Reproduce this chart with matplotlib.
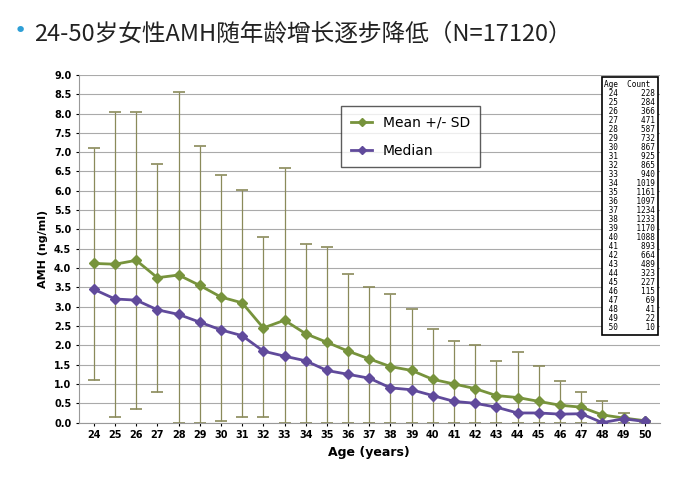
import matplotlib.pyplot as plt
import numpy as np

ages = list(range(24, 51))
mean = [4.12, 4.10, 4.20, 3.75, 3.82, 3.55, 3.25, 3.10, 2.45, 2.65, 2.30, 2.08, 1.85, 1.65,
        1.45, 1.35, 1.12, 1.00, 0.88, 0.70, 0.65, 0.55, 0.45, 0.40, 0.20, 0.12, 0.05]
upper = [7.10, 8.05, 8.05, 6.70, 8.55, 7.15, 6.42, 6.02, 4.80, 6.60, 4.62, 4.55, 3.85, 3.50,
         3.32, 2.95, 2.42, 2.12, 2.02, 1.60, 1.83, 1.47, 1.07, 0.78, 0.55, 0.25, 0.05]
lower = [1.10, 0.15, 0.35, 0.80, 0.00, 0.00, 0.05, 0.15, 0.15, 0.00, 0.00, 0.00, 0.00, 0.00,
         0.00, 0.00, 0.00, 0.00, 0.00, 0.00, 0.00, 0.00, 0.00, 0.00, 0.00, 0.00, 0.00]
median = [3.45, 3.20, 3.17, 2.92, 2.80, 2.60, 2.40, 2.25, 1.85, 1.72, 1.60, 1.35, 1.25, 1.15,
          0.90, 0.85, 0.70, 0.55, 0.50, 0.40, 0.25, 0.25, 0.22, 0.23, 0.00, 0.10, 0.03]
counts = [228, 284, 366, 471, 587, 732, 867, 925, 865, 940, 1019, 1161, 1097, 1234, 1233,
          1170, 1088, 893, 664, 489, 323, 227, 115, 69, 41, 22, 10]

GREEN = "#77933c"
PURPLE = "#604a9b"
CJK = ["Noto Sans CJK SC", "Noto Sans CJK JP", "Noto Sans CJK TC", "Noto Sans CJK KR", "DejaVu Sans"]

fig = plt.figure(figsize=(6.87, 4.83), dpi=100)
fig.text(0.02, 0.915, "•", color="#2e9fd6", fontsize=16, va="bottom")
fig.text(0.05, 0.905, "24-50岁女性AMH随年龄增长逐步降低（N=17120）",
         fontsize=17, family=CJK, color="#222222", va="bottom")

ax = fig.add_axes([0.115, 0.125, 0.845, 0.72])
m = np.array(mean)
yerr = [m - np.array(lower), np.array(upper) - m]
ax.errorbar(ages, mean, yerr=yerr, fmt="none", ecolor="#8a8a5a", elinewidth=0.9,
            capsize=4, capthick=1.2, zorder=2)
ax.plot(ages, mean, color=GREEN, marker="D", markersize=5, lw=2, label="Mean +/- SD", zorder=3)
ax.plot(ages, median, color=PURPLE, marker="D", markersize=5, lw=2, label="Median", zorder=3)

ax.set_xlim(23.3, 50.7)
ax.set_ylim(0, 9)
ax.set_xticks(ages)
ax.set_yticks(np.arange(0, 9.01, 0.5))
ax.set_yticklabels([f"{v:.1f}" for v in np.arange(0, 9.01, 0.5)])
ax.tick_params(labelsize=7, length=2)
for lbl in ax.get_xticklabels() + ax.get_yticklabels():
    lbl.set_fontweight("bold")
ax.grid(axis="y", color="#aaaaaa", lw=0.8)
ax.set_axisbelow(True)
for s in ["top", "right"]:
    ax.spines[s].set_visible(False)
ax.spines["left"].set_color("#999999")
ax.spines["bottom"].set_color("#999999")
ax.set_xlabel("Age (years)", fontsize=9, fontweight="bold")
ax.set_ylabel("AMH (ng/ml)", fontsize=8, fontweight="bold")

leg = ax.legend(loc="upper left", bbox_to_anchor=(0.44, 0.93), fontsize=10,
                frameon=True, fancybox=False, edgecolor="#333333", handlelength=1.5,
                labelspacing=1.0, borderpad=0.7, markerscale=0.8)

table_text = "Age  Count\n" + "\n".join(f"{a:>3}   {c:>5}" for a, c in zip(ages, counts))
ax.text(0.905, 0.985, table_text, transform=ax.transAxes, fontsize=5.6,
        family="DejaVu Sans Mono", va="top", ha="left", linespacing=1.0,
        bbox=dict(facecolor="white", edgecolor="black", lw=1.2, pad=2))

fig.savefig("out.png", dpi=100)
